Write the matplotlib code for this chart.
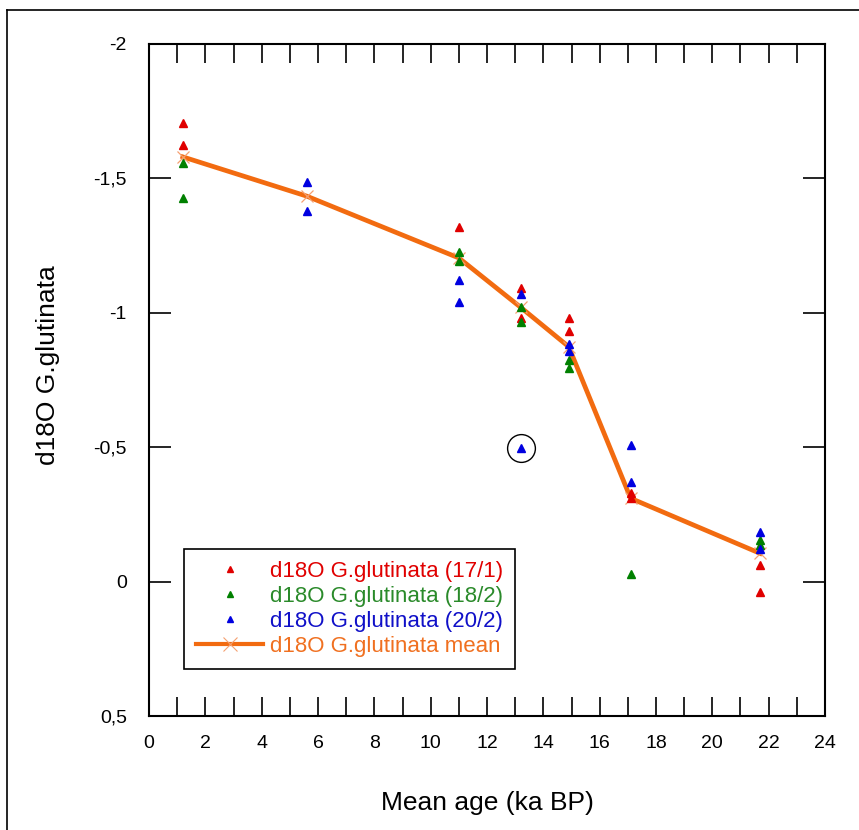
import matplotlib.pyplot as plt
from matplotlib.lines import Line2D
from matplotlib.ticker import MultipleLocator, FuncFormatter

plt.rcParams['font.family'] = ['Liberation Sans', 'DejaVu Sans']

# samples 17/1
x_171 = [1.2, 1.2, 11.0, 13.2, 13.2, 14.9, 14.9, 17.1, 17.1, 21.7, 21.7]
y_171 = [-1.706, -1.624, -1.320, -1.091, -0.979, -0.979, -0.932, -0.328, -0.310, -0.062, 0.040]
# samples 18/2
x_182 = [1.2, 1.2, 11.0, 11.0, 13.2, 13.2, 14.9, 14.9, 17.1, 21.7, 21.7]
y_182 = [-1.557, -1.427, -1.227, -1.193, -1.023, -0.967, -0.824, -0.796, -0.028, -0.155, -0.136]
# samples 20/2
x_202 = [5.6, 5.6, 11.0, 11.0, 13.2, 13.2, 14.9, 14.9, 17.1, 17.1, 21.7, 21.7]
y_202 = [-1.487, -1.379, -1.122, -1.041, -1.070, -0.497, -0.884, -0.859, -0.508, -0.371, -0.183, -0.120]
# circled outlier
x_out = [13.2]
y_out = [-0.497]
# mean
x_mean = [1.2, 5.6, 11.0, 13.2, 14.9, 17.1, 21.7]
y_mean = [-1.580, -1.434, -1.204, -1.020, -0.874, -0.310, -0.105]

c_red = '#e00000'
c_green = '#008000'
c_blue = '#0000e0'
c_orange = '#f26b10'

fig = plt.figure(figsize=(8.59, 8.30), dpi=100)
ax = fig.add_axes([0.1735, 0.1373, 0.7869, 0.8097])

ax.plot(x_mean, y_mean, '-', color=c_orange, lw=3.4, zorder=2)
ax.plot(x_mean, y_mean, 'x', color='#f5a070', ms=8, mew=0.9, zorder=3)
ax.plot(x_171, y_171, '^', color=c_red, ms=6, ls='none', zorder=4)
ax.plot(x_182, y_182, '^', color=c_green, ms=6, ls='none', zorder=4)
ax.plot(x_202, y_202, '^', color=c_blue, ms=6, ls='none', zorder=4)
ax.plot(x_out, y_out, 'o', mfc='none', mec='black', ms=20, mew=1.0, zorder=5)

ax.set_xlim(0, 24)
ax.set_ylim(0.5, -2)

ax.xaxis.set_major_locator(MultipleLocator(2))
ax.xaxis.set_minor_locator(MultipleLocator(1))
ax.yaxis.set_major_locator(MultipleLocator(0.5))
ax.yaxis.set_major_formatter(FuncFormatter(lambda v, p: ('%g' % v).replace('.', ',')))

ax.tick_params(axis='x', which='both', direction='in', length=14, width=1.2,
               top=True, pad=14, labelsize=14)
ax.tick_params(axis='y', which='major', direction='in', length=16, width=1.2,
               right=True, pad=16, labelsize=14)
for sp in ax.spines.values():
    sp.set_linewidth(1.5)

ax.set_xlabel('Mean age (ka BP)', fontsize=19, labelpad=28)
ax.set_ylabel('d18O G.glutinata', fontsize=19)
ax.yaxis.set_label_coords(-0.132, 0.522)

handles = [
    Line2D([], [], marker='^', color=c_red, ls='none', ms=5),
    Line2D([], [], marker='^', color=c_green, ls='none', ms=5),
    Line2D([], [], marker='^', color=c_blue, ls='none', ms=5),
    Line2D([], [], marker='x', color=c_orange, lw=3, ms=10, mew=0.8, mec='#f5a070'),
]
labels = ['d18O G.glutinata (17/1)', 'd18O G.glutinata (18/2)',
          'd18O G.glutinata (20/2)', 'd18O G.glutinata mean']
leg = ax.legend(handles, labels, loc='lower left', bbox_to_anchor=(0.052, 0.07),
                borderaxespad=0, fontsize=16, handlelength=3, handletextpad=0.3,
                labelspacing=0.18, borderpad=0.55, fancybox=False, framealpha=1,
                edgecolor='black')
leg.get_frame().set_linewidth(1.2)
for t, c in zip(leg.get_texts(), [c_red, '#2a8a2a', '#1010c8', '#f07020']):
    t.set_color(c)

# outer frame of the figure
fig.add_artist(Line2D([7 / 859, 1], [1 - 10 / 830, 1 - 10 / 830], color='black', lw=1.2,
                      transform=fig.transFigure))
fig.add_artist(Line2D([7 / 859, 7 / 859], [0, 1 - 10 / 830], color='black', lw=1.2,
                      transform=fig.transFigure))

fig.savefig('out.png', dpi=100)
